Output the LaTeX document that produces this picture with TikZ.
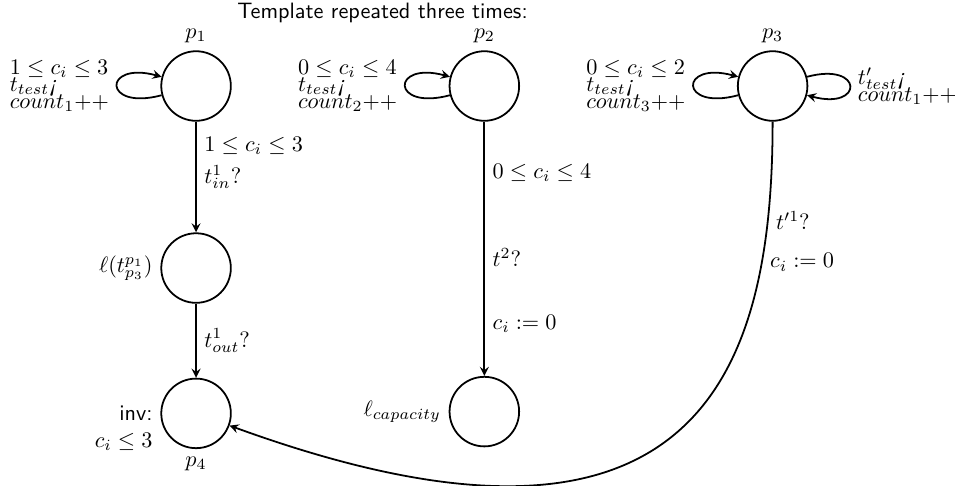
\documentclass[tikz,border=0pt]{standalone}
\usepackage{amsmath}
\usepackage{amssymb}
\usepackage{tikz}
\usetikzlibrary{arrows, positioning, calc}

\begin{document}
\begin{tikzpicture}[
    node distance=1.75cm and 3.43cm,
    place/.style={circle, draw, thick, minimum size=1.1cm, inner sep=0pt},
    arrow/.style={thick,->,>=stealth},
    guard/.style={right, align=left},
    loopnote/.style={align=left, execute at begin node={\lineskiplimit=-100pt\relax}},
    loopl/.style={out=195, in=165, min distance=0.97cm},
    loopr/.style={out=15, in=-15, min distance=0.93cm}
]
\useasboundingbox (-3.10,1.36) rectangle (12.0,-6.32);

\node (p1) [place, label=above:$p_1$] {};
\node (p2) [place, label=above:$p_2$, right=of p1] {};
\node (p3) [place, label=above:$p_3$, right=of p2] {};
\node (l1) [place, label=left:{$\ell(t_{p_3}^{p_1})$}, below=of p1] {};
\node (p4) [place, label=below:$p_4$, label={[align=right, yshift=-0.24cm]left:{{\sffamily inv:}\\$c_i \leq 3$}}, below=1.17cm of l1] {};
\node (lcap) [place, label=left:$\ell_{capacity}$, below=4.02cm of p2] {};

\node (title) [font=\sffamily] at ($(p2.north)+(-1.61,0.585)$) {Template repeated three times:};

% self loops
\draw [arrow] (p1) to [loopl] node [loopnote, left] {$1 \leq c_i \leq 3$\\[-4.3pt]$t_{test}$\textit{\textexclamdown}\\[-4.3pt]$count_1{+}{+}$} (p1);
\draw [arrow] (p2) to [loopl] node [loopnote, left] {$0 \leq c_i \leq 4$\\[-4.3pt]$t_{test}$\textit{\textexclamdown}\\[-4.3pt]$count_2{+}{+}$} (p2);
\draw [arrow] (p3) to [loopl] node [loopnote, left] {$0 \leq c_i \leq 2$\\[-4.3pt]$t_{test}$\textit{\textexclamdown}\\[-4.3pt]$count_3{+}{+}$} (p3);
\draw [arrow] (p3) to [loopr] node [loopnote, right] {$t'_{test}$\textit{\textexclamdown}\\[-4.3pt]$count_1{+}{+}$} (p3);

% transitions
\draw [arrow] (p1) -- node [guard, pos=0.22] {$1 \leq c_i \leq 3$} node [guard, pos=0.5] {$t_{in}^1?$} (l1);
\draw [arrow] (l1) -- node [guard] {$t_{out}^1?$} (p4);
\draw [arrow] (p2) -- node [guard, pos=0.2] {$0 \leq c_i \leq 4$} node [guard, pos=0.535] {$t^2?$} node [guard, pos=0.795] {$c_i := 0$} (lcap);
\draw [arrow] (p3.south) .. controls +(0,-3.95) and +(-20:7.9) .. node [guard, pos=0.135] {$t'^1?$} node [guard, pos=0.195] {$c_i := 0$} (p4.-20);
\end{tikzpicture}
\end{document}
